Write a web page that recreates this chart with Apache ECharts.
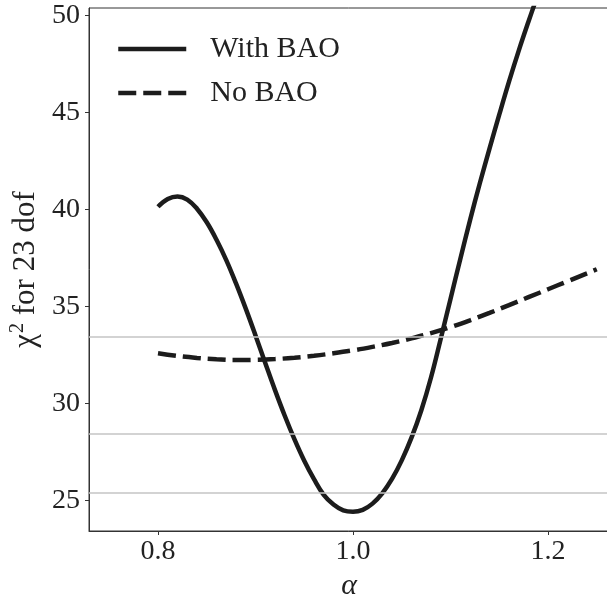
<!DOCTYPE html>
<html>
<head>
<meta charset="utf-8">
<script src="https://cdn.jsdelivr.net/npm/echarts@6/dist/echarts.min.js"></script>
<style>
html,body{margin:0;padding:0;background:#fff;}
#chart{width:607px;height:597px;}
</style>
</head>
<body>
<div id="chart"></div>
<script>
// alpha grid and chi^2 values
const alphaWith = [0.80,0.81,0.82,0.83,0.84,0.85,0.86,0.87,0.88,0.89,
                   0.90,0.91,0.92,0.93,0.94,0.95,0.96,0.97,0.98,0.99,
                   1.00,1.01,1.02,1.03,1.04,1.05,1.06,1.07,1.08,1.09,
                   1.10,1.11,1.12,1.13,1.14,1.15,1.16,1.17,1.18,1.19];
const chi2WithBAO = [40.15,40.55,40.68,40.52,40.05,39.35,38.45,37.40,36.20,34.90,
                     33.52,32.10,30.70,29.38,28.16,27.06,26.11,25.30,24.80,24.50,
                     24.43,24.53,24.85,25.38,26.12,27.08,28.25,29.65,31.35,33.35,
                     35.40,37.45,39.45,41.35,43.15,44.90,46.60,48.20,49.70,51.15];
const alphaNo = [0.80,0.82,0.84,0.86,0.88,0.90,0.92,0.94,0.96,0.98,
                 1.00,1.02,1.04,1.06,1.08,1.10,1.12,1.14,1.16,1.18,
                 1.20,1.22,1.24,1.25];
const chi2NoBAO = [32.60,32.46,32.36,32.29,32.25,32.26,32.30,32.37,32.47,32.60,
                   32.75,32.93,33.13,33.37,33.64,33.95,34.30,34.68,35.08,35.49,
                   35.90,36.31,36.72,36.93];
// reference levels (min + 1, 4, 9)
const levels = [25.43, 28.43, 33.43];
const xTicks = [0.8, 1.0, 1.2];
const yTicks = [25, 30, 35, 40, 45, 50];
const seriesNames = ['With BAO', 'No BAO'];

const FONT = 'Liberation Serif';
const INK = '#222222';

const chart = echarts.init(document.getElementById('chart'));
chart.setOption({
  animation: false,
  backgroundColor: '#ffffff',
  grid: {left: 89, right: -2, top: 8, bottom: 66, show: true, borderColor: '#333', borderWidth: 1,
         backgroundColor: 'transparent', outerBoundsMode: 'none', containLabel: false},
  legend: {
    orient: 'vertical', left: 116, top: 34, padding: 0,
    itemWidth: 68, itemHeight: 14, itemGap: 14,
    itemStyle: {opacity: 0},
    lineStyle: {width: 4.5},
    textStyle: {fontFamily: FONT, fontSize: 30, color: INK, lineHeight: 30, padding: [0,0,0,19]},
    data: seriesNames
  },
  xAxis: {
    type: 'value', min: 0.72923, max: 1.26256,
    name: 'α', nameLocation: 'middle', nameGap: 40,
    nameTextStyle: {fontFamily: FONT, fontSize: 30, color: INK, fontStyle: 'italic'},
    axisLine: {show: true, lineStyle: {color: '#333', width: 1}},
    axisTick: {show: true, length: 4, lineStyle: {color: '#333'}, customValues: xTicks},
    axisLabel: {fontFamily: FONT, fontSize: 28, color: INK, margin: 7, customValues: xTicks,
                formatter: v => v.toFixed(1)},
    splitLine: {show: false}
  },
  yAxis: {
    type: 'value', min: 23.438, max: 50.397,
    name: '{a|χ}{s|2}{a| for 23 dof}', nameLocation: 'middle', nameGap: 40, nameRotate: 90,
    nameTextStyle: {
      fontFamily: FONT, fontSize: 31, color: INK,
      rich: {
        a: {fontFamily: FONT, fontSize: 31, color: INK},
        s: {fontFamily: FONT, fontSize: 20, color: INK, padding: [0,0,15,1]}
      }
    },
    axisLine: {show: true, lineStyle: {color: '#333', width: 1}},
    axisTick: {show: true, length: 4, lineStyle: {color: '#333'}, customValues: yTicks},
    axisLabel: {fontFamily: FONT, fontSize: 28, color: INK, margin: 9, customValues: yTicks},
    splitLine: {show: false}
  },
  series: [
    {
      name: 'levels', type: 'line', data: [], z: 1, silent: true,
      markLine: {
        silent: true, symbol: 'none', label: {show: false},
        lineStyle: {color: '#c4c4c4', width: 1.5, type: 'solid'},
        data: levels.map(v => ({yAxis: v}))
      }
    },
    {
      name: seriesNames[0], type: 'line', z: 3, smooth: 0.4, showSymbol: false, symbol: 'none', clip: true,
      data: alphaWith.map((a, i) => [a, chi2WithBAO[i]]),
      lineStyle: {color: '#1c1c1c', width: 4.5, type: 'solid'},
      itemStyle: {color: '#1c1c1c'}
    },
    {
      name: seriesNames[1], type: 'line', z: 3, smooth: 0.4, showSymbol: false, symbol: 'none', clip: true,
      data: alphaNo.map((a, i) => [a, chi2NoBAO[i]]),
      lineStyle: {color: '#1c1c1c', width: 4.5, type: [18, 7]},
      itemStyle: {color: '#1c1c1c'}
    }
  ]
});
</script>
</body>
</html>
